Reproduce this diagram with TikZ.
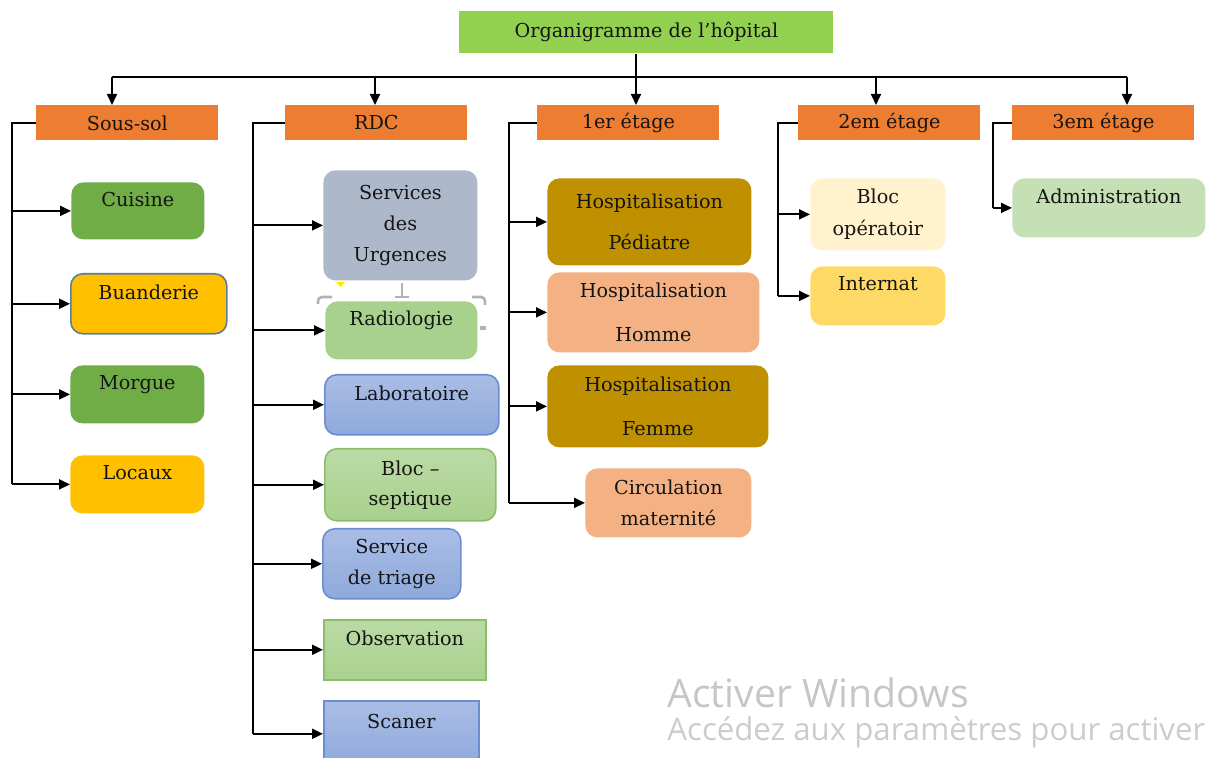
\documentclass[tikz,border=0pt]{standalone}
\usepackage{fontspec}
\setmainfont{DejaVu Serif}
\newfontfamily\winfont{Open Sans}
\usetikzlibrary{arrows.meta}

\definecolor{VertTitre}{HTML}{92D050}
\definecolor{OrangeEtage}{HTML}{ED7D31}
\definecolor{VertFonce}{HTML}{70AD47}
\definecolor{VertClair}{HTML}{A9D18E}
\definecolor{VertPale}{HTML}{C5E0B4}
\definecolor{Jaune}{HTML}{FFC000}
\definecolor{JauneClair}{HTML}{FFD966}
\definecolor{Creme}{HTML}{FFF2CC}
\definecolor{GrisBleu}{HTML}{ADB9CA}
\definecolor{BordGris}{HTML}{5E7D9A}
\definecolor{BleuHaut}{HTML}{AABDE6}
\definecolor{BleuBas}{HTML}{8EA9DB}
\definecolor{BleuBord}{HTML}{6B8ED3}
\definecolor{Or}{HTML}{BF9000}
\definecolor{Saumon}{HTML}{F4B183}
\definecolor{Texte}{HTML}{141414}

\tikzset{
    ligne/.style={line width=1pt, draw=black},
    fleche/.style={ligne, -{Triangle[length=5.5pt, width=5pt]}},
    etage/.style={fill=OrangeEtage, minimum width=91pt, minimum height=17.5pt,
        anchor=north west, inner sep=0pt, text=Texte,
        font=\fontsize{9.6}{12}\selectfont},
    service/.style={rounded corners=6pt, anchor=north west, inner sep=0pt,
        align=center, text=Texte, font=\fontsize{9.6}{12}\selectfont},
    haut/.style={text depth=12pt},
    bleu/.style={top color=BleuHaut, bottom color=BleuBas, draw=BleuBord, line width=0.8pt},
    vert/.style={top color=VertClair!80!white, bottom color=VertClair,
        draw=VertFonce!80!white, line width=0.8pt},
    poignee/.style={draw=gray!60, line width=1.3pt}
}

\begin{document}
\begin{tikzpicture}[x=0.5pt, y=-0.5pt]

\useasboundingbox (0,0) rectangle (1207,758);
\clip (0,0) rectangle (1207,758);

% Points du bus et des lignes verticales
\coordinate (b1) at (112,77);
\coordinate (b2) at (375,77);
\coordinate (b3) at (636,77);
\coordinate (b4) at (876,77);
\coordinate (b5) at (1127,77);

\coordinate (t1) at (12,0);
\coordinate (t2) at (253,0);
\coordinate (t3) at (509,0);
\coordinate (t4) at (778,0);
\coordinate (t5) at (993,0);

% Titre et etages
\node[fill=VertTitre, minimum width=187pt, minimum height=21pt, anchor=north west,
    text=Texte, font=\fontsize{9.6}{12}\selectfont] (titre) at (459,11)
    {Organigramme de l’hôpital};

\node[etage] (soussol) at (36,105) {Sous-sol};
\node[etage] (rdc) at (285,105) {RDC};
\node[etage] (premier) at (537,105) {1er étage};
\node[etage] (deuxieme) at (798,105) {2em étage};
\node[etage] (troisieme) at (1012,105) {3em étage};

% Sous-sol
\node[service, haut, fill=VertFonce, minimum width=66.5pt, minimum height=28.5pt]
    (cuisine) at (71,182) {Cuisine};
\node[service, haut, fill=Jaune, draw=BordGris, line width=0.8pt,
    minimum width=78pt, minimum height=30pt] (buanderie) at (70,273) {Buanderie};
\node[service, haut, fill=VertFonce, minimum width=67pt, minimum height=29pt]
    (morgue) at (70,365) {Morgue};
\node[service, haut, fill=Jaune, minimum width=67pt, minimum height=29pt]
    (locaux) at (70,455) {Locaux};

% RDC
\node[service, fill=GrisBleu, minimum width=77pt, minimum height=55pt]
    (urgences) at (323,170) {Services\\[3.5pt] des\\[3.5pt] Urgences};
\node[service, haut, fill=VertClair, minimum width=76pt, minimum height=29pt]
    (radiologie) at (325,301) {Radiologie};
\node[service, haut, bleu, minimum width=87pt, minimum height=30pt]
    (laboratoire) at (324,374) {Laboratoire};
\node[service, vert, minimum width=85.5pt, minimum height=36pt]
    (septique) at (324,448) {Bloc –\\[3pt] septique};
\node[service, bleu, minimum width=69pt, minimum height=35pt]
    (triage) at (322,528) {Service\\[3.5pt] de triage};
\node[service, haut, vert, sharp corners, minimum width=81pt, minimum height=30pt]
    (observation) at (323,619) {Observation};
\node[service, haut, bleu, sharp corners, minimum width=77.5pt, minimum height=33pt]
    (scaner) at (323,700) {Scaner};

% 1er etage
\node[service, fill=Or, minimum width=102pt, minimum height=43.5pt]
    (pediatre) at (547,178) {Hospitalisation\\[8.5pt] Pédiatre};
\node[service, fill=Saumon, minimum width=106pt, minimum height=40pt]
    (homme) at (547,272) {Hospitalisation\\[10pt] Homme};
\node[service, fill=Or, minimum width=110.5pt, minimum height=41pt]
    (femme) at (547,365) {Hospitalisation\\[10pt] Femme};
\node[service, fill=Saumon, minimum width=83pt, minimum height=34.5pt]
    (circulation) at (585,468) {Circulation\\[3.5pt] maternité};

% 2em et 3em etage
\node[service, fill=Creme, minimum width=67.5pt, minimum height=36pt]
    (operatoire) at (810,178) {Bloc\\[4pt] opératoir};
\node[service, haut, fill=JauneClair, minimum width=67.5pt, minimum height=29.5pt]
    (internat) at (810,266) {Internat};
\node[service, haut, fill=VertPale, minimum width=96.5pt, minimum height=29.5pt]
    (administration) at (1012,178) {Administration};

% Bus du haut
\draw[ligne] (b1) -- (b5);
\draw[fleche] (titre.south -| b3) -- (b3 |- premier.north);
\draw[fleche] (b1) -- (b1 |- soussol.north);
\draw[fleche] (b2) -- (b2 |- rdc.north);
\draw[fleche] (b4) -- (b4 |- deuxieme.north);
\draw[fleche] (b5) -- (b5 |- troisieme.north);

% Branches de chaque etage
\draw[ligne] (soussol.west) -| (locaux.west -| t1);
\draw[fleche] (cuisine.west -| t1) -- (cuisine.west);
\draw[fleche] (buanderie.west -| t1) -- (buanderie.west);
\draw[fleche] (morgue.west -| t1) -- (morgue.west);
\draw[fleche] (locaux.west -| t1) -- (locaux.west);

\draw[ligne] (rdc.west) -| (scaner.west -| t2);
\draw[fleche] (urgences.west -| t2) -- (urgences.west);
\draw[fleche] (radiologie.west -| t2) -- (radiologie.west);
\draw[fleche] (laboratoire.west -| t2) -- (laboratoire.west);
\draw[fleche] (septique.west -| t2) -- (septique.west);
\draw[fleche] (triage.west -| t2) -- (triage.west);
\draw[fleche] (observation.west -| t2) -- (observation.west);
\draw[fleche] (scaner.west -| t2) -- (scaner.west);

\draw[ligne] (premier.west) -| (circulation.west -| t3);
\draw[fleche] (pediatre.west -| t3) -- (pediatre.west);
\draw[fleche] (homme.west -| t3) -- (homme.west);
\draw[fleche] (femme.west -| t3) -- (femme.west);
\draw[fleche] (circulation.west -| t3) -- (circulation.west);

\draw[ligne] (deuxieme.west) -| (internat.west -| t4);
\draw[fleche] (operatoire.west -| t4) -- (operatoire.west);
\draw[fleche] (internat.west -| t4) -- (internat.west);

\draw[ligne] (troisieme.west) -| (administration.west -| t5);
\draw[fleche] (administration.west -| t5) -- (administration.west);

% Poignees de selection autour de Radiologie
\draw[poignee] (402,283) -- (402,297);
\draw[poignee] (395,297) -- (409,297);
\draw[poignee, rounded corners=2pt] (318,304) -- (318,297) -- (332,297);
\draw[poignee, rounded corners=2pt] (472,297) -- (485,297) -- (485,305);
\fill[gray!60] (480,326) rectangle (486,330);
\fill[yellow!90!orange] (336,282) -- (345,282) -- (340.5,287) -- cycle;

% Filigrane
\node[anchor=base west, inner sep=0pt, text=gray!45,
    font=\winfont\fontsize{19.6}{19.6}\selectfont] (activer) at (667,708)
    {Activer Windows};
\node[anchor=base west, inner sep=0pt, text=gray!40,
    font=\winfont\fontsize{15.6}{15.6}\selectfont] (acceder) at (667,741)
    {Accédez aux paramètres pour activer};

\end{tikzpicture}
\end{document}
